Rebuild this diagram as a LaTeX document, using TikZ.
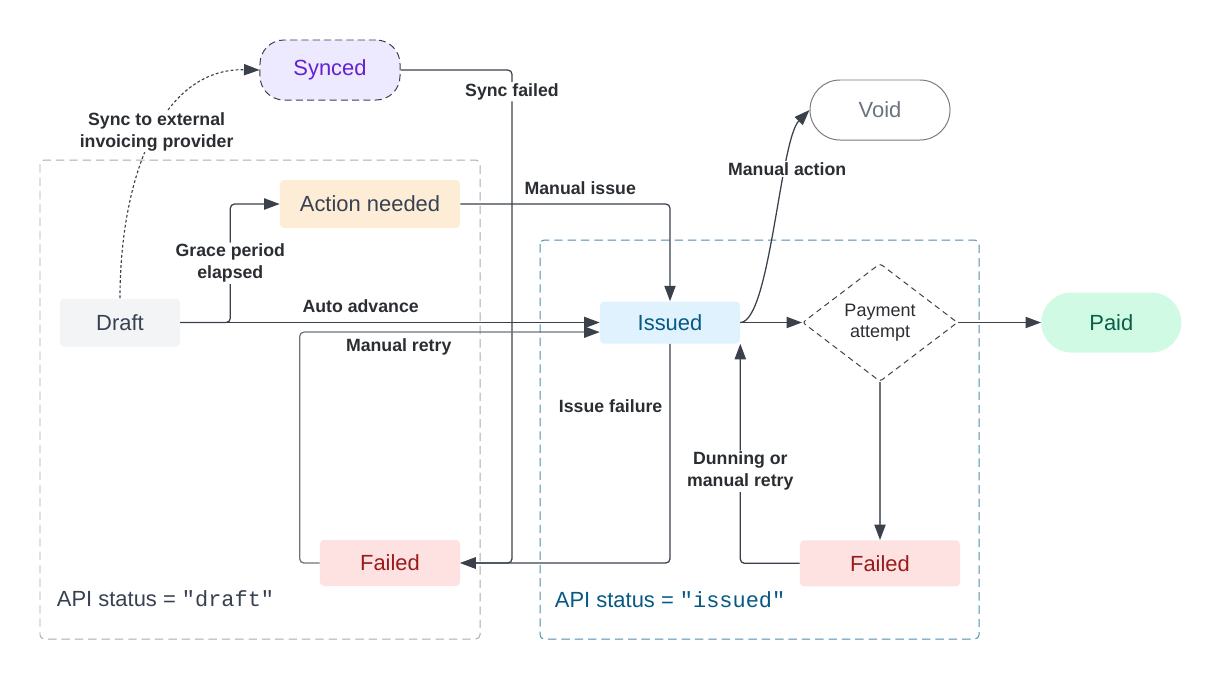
\documentclass[tikz,border=0pt]{standalone}
\usepackage{fontspec}
\setmainfont{Liberation Sans}
\setmonofont{Liberation Mono}
\usetikzlibrary{arrows.meta,shapes.geometric,positioning}
\definecolor{linec}{HTML}{3A414B}
\definecolor{retryc}{HTML}{6E737B}
\definecolor{lblc}{HTML}{2A2D31}
\definecolor{draftc}{HTML}{F3F4F6}
\definecolor{draftt}{HTML}{374151}
\definecolor{actionc}{HTML}{FEEDD6}
\definecolor{syncc}{HTML}{EDE9FE}
\definecolor{synct}{HTML}{6422CF}
\definecolor{voidd}{HTML}{7A7A7A}
\definecolor{voidt}{HTML}{6B7280}
\definecolor{issuedc}{HTML}{E0F2FE}
\definecolor{issuedt}{HTML}{075985}
\definecolor{paidc}{HTML}{D1FAE5}
\definecolor{paidt}{HTML}{065F46}
\definecolor{failc}{HTML}{FEE2E2}
\definecolor{failt}{HTML}{991B1B}
\definecolor{grpdraft}{HTML}{ABABAB}
\definecolor{grpissued}{HTML}{4C8CB0}
\tikzstyle{tikzstate} = [rectangle, rounded corners=0.1cm, minimum width=3.5cm, minimum height=1.15cm, text centered, font=\fontsize{15.6pt}{18pt}\selectfont]
\tikzstyle{tikzlbl} = [align=center, inner sep=1pt, text=lblc, font=\bfseries\fontsize{12.6pt}{15.6pt}\selectfont]
\tikzstyle{tikzflow} = [draw=linec, line width=0.9pt, rounded corners=3pt, -{Triangle[length=11pt,width=8pt,color=linec]}]
\tikzstyle{tikzgroup} = [line width=0.7pt, rounded corners=3pt, dash pattern=on 6pt off 3.5pt]

\begin{document}
\begin{tikzpicture}[x=0.025cm, y=-0.025cm]
    \useasboundingbox (0,0) rectangle (1220,680);

    % groups
    \draw [tikzgroup, draw=grpdraft] (40,160) rectangle (480,639);
    \draw [tikzgroup, draw=grpissued] (540,240) rectangle (979,639);
    \node (apidraft) [anchor=west, text=draftt, font=\fontsize{15.6pt}{18pt}\selectfont] at (52,599) {API status = \texttt{"draft"}};
    \node (apiissued) [anchor=west, text=issuedt, font=\fontsize{15.6pt}{18pt}\selectfont] at (550,600) {API status = \texttt{"issued"}};

    % states
    \node (draft)  [tikzstate, fill=draftc, text=draftt, minimum width=3cm, minimum height=1.2cm] at (120,322.5) {Draft};
    \node (action) [tikzstate, fill=actionc, text=draftt, minimum width=4.5cm, minimum height=1.2cm] at (370,204) {Action needed};
    \node (synced) [tikzstate, fill=syncc, text=synct, draw=linec, line width=0.7pt, dash pattern=on 5pt off 3pt, rounded corners=0.6cm, minimum height=1.5cm] at (330,70) {Synced};
    \node (void)   [tikzstate, draw=voidd, text=voidt, line width=0.7pt, rounded corners=0.75cm, minimum height=1.5cm] at (880,110) {Void};
    \node (issued) [tikzstate, fill=issuedc, text=issuedt, minimum height=1.05cm] at (670,322.5) {Issued};
    \node (pay)    [diamond, draw=linec, line width=0.7pt, dash pattern=on 4pt off 3pt, rounded corners=2pt, minimum width=3.875cm, minimum height=2.95cm, inner sep=0pt, align=center, text=lblc, font=\fontsize{12.8pt}{15pt}\selectfont] at (880,322.5) {Payment\\attempt};
    \node (paid)   [tikzstate, fill=paidc, text=paidt, rounded corners=0.75cm, minimum height=1.5cm, right=2.075cm of pay] {Paid};
    \node (failR)  [tikzstate, fill=failc, text=failt, minimum width=4cm, below=3.95cm of pay] {Failed};
    \node (failL)  [tikzstate, fill=failc, text=failt] at (390,563) {Failed};
    \coordinate (sfx) at (512,563);

    % transitions
    \draw [tikzflow, line width=0.8pt, dash pattern=on 2pt off 1.6pt] (draft.north) .. controls (120,180) and (160,68) .. (synced.west) node [tikzlbl, fill=white, pos=0.53] {Sync to external\\invoicing provider};
    \draw [tikzflow] (draft.east) -- ++(50,0) |- (action.west) node [tikzlbl, fill=white, pos=0.25] {Grace period\\elapsed};
    \draw [tikzflow] (draft.east) -- (issued.west) node [tikzlbl, above=5.5pt, pos=0.43] {Auto advance};
    \draw [tikzflow] (synced.east) -| (sfx) node [tikzlbl, fill=white, pos=0.522] {Sync failed} -- (failL.east);
    \draw [tikzflow] (action.east) -| (issued.north) node [tikzlbl, above=5.5pt, pos=0.286] {Manual issue};
    \draw [tikzflow, draw=retryc] (failL.west) -- ++(-20,0) |- ([yshift=-0.24cm]issued.west) node [tikzlbl, below=3pt, pos=0.665] {Manual retry};
    \draw [tikzflow] (issued.south) |- (failL.east) node [tikzlbl, left=4pt, pos=0.142] {Issue failure};
    \draw [tikzflow] (issued.east) .. controls (770,322) and (780,140) .. (void.west) node [tikzlbl, fill=white, pos=0.7] {Manual action};
    \draw [tikzflow] (issued.east) -- (pay.west);
    \draw [tikzflow] (pay.east) -- (paid.west);
    \draw [tikzflow, draw=retryc] (pay.south) -- (failR.north);
    \draw [tikzflow] (failR.west) -| (issued.south east) node [tikzlbl, fill=white, pos=0.71] {Dunning or\\manual retry};
\end{tikzpicture}
\end{document}
